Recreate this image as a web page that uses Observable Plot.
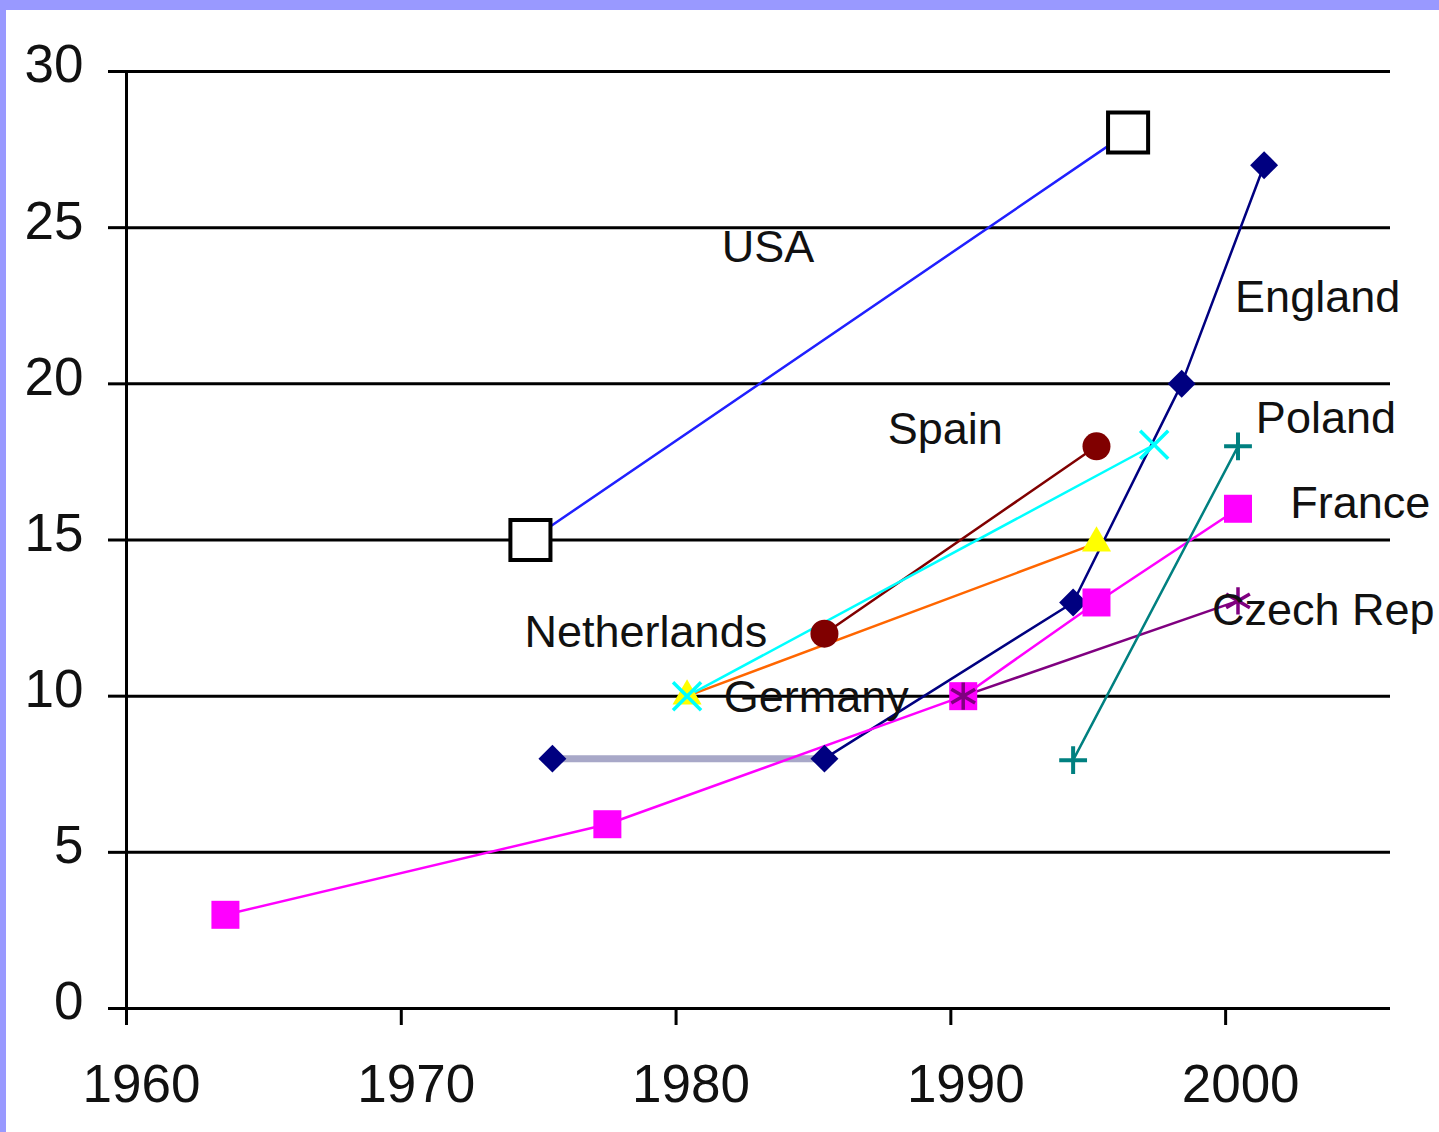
<!DOCTYPE html>
<html>
<head>
<meta charset="utf-8">
<script src="https://cdn.jsdelivr.net/npm/d3@7"></script>
<script src="https://cdn.jsdelivr.net/npm/@observablehq/plot@0.6"></script>
<style>
  html, body { margin: 0; padding: 0; background: #fff; }
  #frame {
    position: absolute; left: 0; top: 0;
    width: 1439px; height: 1132px; box-sizing: border-box;
    border-top: 10px solid #9999ff; border-left: 6px solid #9999ff;
    background: #fff; overflow: hidden;
  }
  #frame svg { display: block; }
</style>
</head>
<body>
<div id="frame"></div>
<script>
// ---- data ----
const xTicks = [1960, 1970, 1980, 1990, 2000];
const yTicks = [0, 5, 10, 15, 20, 25, 30];

const usaYears = [1974.7, 1996.45];
const usaValues = [15, 28.05];

const englandYears = [1975.5, 1985.4, 1994.45, 1998.4, 2001.4];
const englandValues = [8, 8, 13, 20, 27];

const spainYears = [1985.4, 1995.3];
const spainValues = [12, 18];

const netherlandsYears = [1980.4, 1997.4];
const netherlandsValues = [10, 18.05];

const germanyYears = [1980.4, 1995.3];
const germanyValues = [10, 14.9];

const franceYears = [1963.6, 1977.5, 1990.45, 1995.3, 2000.45];
const franceValues = [3, 5.9, 10, 13, 16];

const czechYears = [1990.45, 2000.45];
const czechValues = [10, 13.05];

const polandYears = [1994.45, 2000.45];
const polandValues = [7.95, 18];

const labelNames = ["USA", "England", "Poland", "Spain", "France", "Netherlands", "Czech Rep", "Germany"];
const labelYears = [1983.35, 2003.35, 2003.65, 1989.8, 2004.9, 1978.9, 2003.55, 1985.1];
const labelValues = [24.35, 22.75, 18.9, 18.55, 16.15, 12.05, 12.75, 9.95];

// ---- build tables ----
const pts = (xs, ys) => xs.map((x, i) => ({x, y: ys[i]}));
const usa = pts(usaYears, usaValues);
const england = pts(englandYears, englandValues);
const spain = pts(spainYears, spainValues);
const netherlands = pts(netherlandsYears, netherlandsValues);
const germany = pts(germanyYears, germanyValues);
const france = pts(franceYears, franceValues);
const czech = pts(czechYears, czechValues);
const poland = pts(polandYears, polandValues);
const labels = labelNames.map((t, i) => ({t, x: labelYears[i], y: labelValues[i]}));

const font = "'Liberation Sans', Arial, sans-serif";
const lw = 2.5;
const txt = "#111";

const chart = Plot.plot({
  width: 1433,
  height: 1122,
  marginLeft: 120,
  marginRight: 49,
  marginTop: 61,
  marginBottom: 124,
  style: {fontFamily: font, background: "#fff", color: "#000", overflow: "visible"},
  x: {domain: [1960, 2006]},
  y: {domain: [0, 30]},
  marks: [
    Plot.ruleY(yTicks, {stroke: "#000", strokeWidth: 3}),
    Plot.ruleX([1960], {stroke: "#000", strokeWidth: 3}),
    // tick marks
    Plot.axisY({ticks: yTicks, tickSize: 18, stroke: "#000", strokeWidth: 3,
      tickFormat: () => "", label: null}),
    Plot.axisX({ticks: xTicks, tickSize: 17, stroke: "#000", strokeWidth: 3,
      tickFormat: () => "", label: null}),
    // tick labels
    Plot.axisY({ticks: yTicks, tickSize: 0, tickPadding: 43, fill: txt,
      fontSize: 53, dy: -6, tickFormat: d => String(d), label: null, fontFamily: font}),
    Plot.axisX({ticks: xTicks, tickSize: 0, tickPadding: 56, fill: txt,
      fontSize: 53, dx: 15, tickFormat: d => String(d), label: null, fontFamily: font}),

    // lines
    Plot.line(england.slice(0, 2), {x: "x", y: "y", stroke: "#a8a8c8", strokeWidth: 7}),
    Plot.line(usa, {x: "x", y: "y", stroke: "#2020ff", strokeWidth: lw}),
    Plot.line(england.slice(1), {x: "x", y: "y", stroke: "#000080", strokeWidth: lw}),
    Plot.line(france, {x: "x", y: "y", stroke: "#ff00ff", strokeWidth: lw}),
    Plot.line(germany, {x: "x", y: "y", stroke: "#ff6600", strokeWidth: lw}),
    Plot.line(spain, {x: "x", y: "y", stroke: "#800000", strokeWidth: lw}),
    Plot.line(netherlands, {x: "x", y: "y", stroke: "#00ffff", strokeWidth: lw}),
    Plot.line(czech, {x: "x", y: "y", stroke: "#800080", strokeWidth: lw}),
    Plot.line(poland, {x: "x", y: "y", stroke: "#008080", strokeWidth: lw}),

    // markers
    Plot.dot(usa, {x: "x", y: "y", symbol: "square", r: 22.6, fill: "#fff", stroke: "#000", strokeWidth: 4}),
    Plot.dot(england, {x: "x", y: "y", symbol: "diamond2", r: 12.6, fill: "#000080", stroke: "none"}),
    Plot.dot(france, {x: "x", y: "y", symbol: "square", r: 15.8, fill: "#ff00ff", stroke: "none"}),
    Plot.dot(germany, {x: "x", y: "y", symbol: "triangle", r: 10.8, fill: "#ffff00", stroke: "none"}),
    Plot.dot(spain, {x: "x", y: "y", symbol: "circle", r: 14, fill: "#800000", stroke: "none"}),
    Plot.dot(netherlands, {x: "x", y: "y", symbol: "times", r: 12.8, fill: "none", stroke: "#00ffff", strokeWidth: 3.5}),
    Plot.dot(czech, {x: "x", y: "y", symbol: "asterisk", r: 13, fill: "none", stroke: "#800080", strokeWidth: 3.5}),
    Plot.dot(poland, {x: "x", y: "y", symbol: "plus", r: 9, fill: "none", stroke: "#008080", strokeWidth: 4}),

    // series labels
    Plot.text(labels, {x: "x", y: "y", text: "t", fontSize: 45, fill: txt, textAnchor: "middle",
      lineAnchor: "middle", fontFamily: font})
  ]
});
document.getElementById("frame").appendChild(chart);
</script>
</body>
</html>
